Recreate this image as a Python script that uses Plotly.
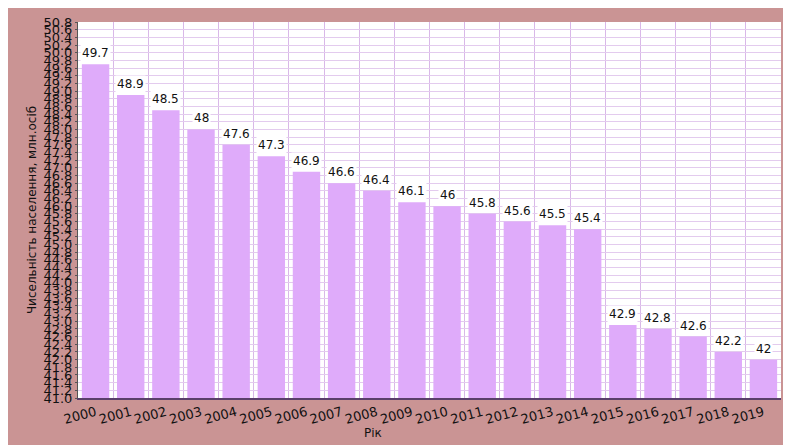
import plotly.graph_objects as go

years = [str(y) for y in range(2000, 2020)]
population = [49.7, 48.9, 48.5, 48.0, 47.6, 47.3, 46.9, 46.6, 46.4, 46.1,
              46.0, 45.8, 45.6, 45.5, 45.4, 42.9, 42.8, 42.6, 42.2, 42.0]
labels = ["49.7", "48.9", "48.5", "48", "47.6", "47.3", "46.9", "46.6", "46.4", "46.1",
          "46", "45.8", "45.6", "45.5", "45.4", "42.9", "42.8", "42.6", "42.2", "42"]

y_min, y_max, y_step = 41.0, 50.8, 0.2
n_ticks = int(round((y_max - y_min) / y_step)) + 1
y_ticks = [round(y_min + i * y_step, 1) for i in range(n_ticks)]
y_ticktext = [f"{v:.1f}" for v in y_ticks]

PINK = "#CA9494"
BAR = "#DFABFA"
FONT = "DejaVu Sans"

fig = go.Figure()
fig.add_trace(go.Bar(
    x=years, y=population,
    marker=dict(color=BAR, line=dict(width=0)),
    width=0.78,
    hoverinfo="x+y",
))

for i, (v, t) in enumerate(zip(population, labels)):
    fig.add_annotation(
        x=i, y=v, text=t, showarrow=False, yanchor="bottom", yshift=2,
        bgcolor="white", borderpad=1,
        font=dict(family=FONT, size=12, color="#111111"),
    )

fig.add_annotation(
    xref="paper", yref="paper", x=0.42, y=-0.093, text="Рік", showarrow=False,
    xanchor="center", yanchor="middle",
    font=dict(family=FONT, size=12, color="#111111"),
)

fig.update_layout(
    width=791, height=445,
    margin=dict(l=70, r=18, t=14, b=55),
    paper_bgcolor=PINK,
    plot_bgcolor="white",
    showlegend=False,
    xaxis=dict(
        type="category",
        automargin=False,
        range=[-0.5, len(years) - 0.5],
        tickangle=-15,
        tickfont=dict(family=FONT, size=13, color="#111111"),
        showgrid=True, gridcolor="#D9B8E8", gridwidth=1,
        tickson="boundaries",
        ticks="", ticklen=0,
        showline=True, linecolor="#5A3F6A", linewidth=2,
    ),
    yaxis=dict(
        automargin=False,
        range=[y_min, y_max],
        tickvals=y_ticks, ticktext=y_ticktext,
        tickfont=dict(family=FONT, size=13, color="#111111"),
        showgrid=True, gridcolor="#E3CBEE", gridwidth=1,
        ticks="outside", ticklen=2, tickcolor="#555555",
        showline=True, linecolor="#555555", linewidth=1,
        zeroline=False,
        title=dict(text="Чисельність населення, млн.осіб",
                   font=dict(family=FONT, size=12, color="#111111"), standoff=4),
    ),
)

fig.write_html("out.html")
